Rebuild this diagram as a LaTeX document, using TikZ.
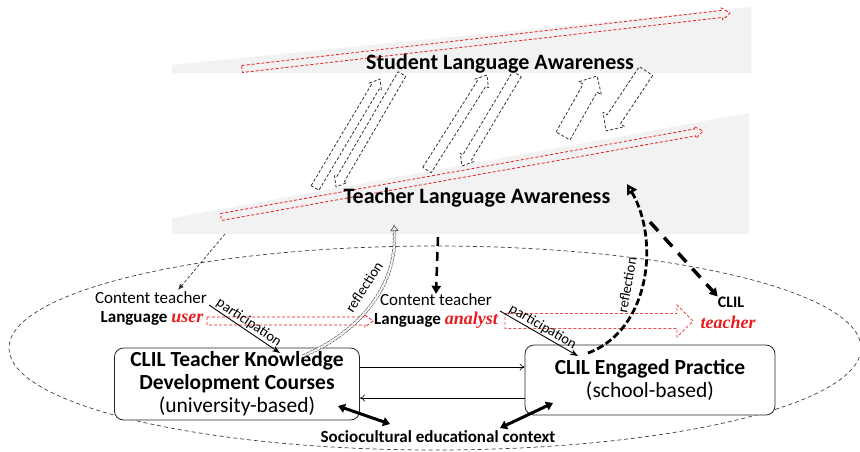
\documentclass[tikz,border=0pt]{standalone}
\usepackage{fontspec}
\setmainfont{Carlito}
\newfontfamily\serifit{Liberation Serif}
\usetikzlibrary{arrows.meta,calc}

\definecolor{bandgray}{RGB}{242,242,242}
\definecolor{lred}{RGB}{232,28,28}

% hollow block arrow: style, from, to, shaft half width, head half width, head length
\newcommand{\hollowarrow}[6]{%
  \coordinate (ha-s) at #2;
  \coordinate (ha-e) at #3;
  \coordinate (ha-n) at ($(ha-e)!#6!(ha-s)$);
  \draw[#1] ($(ha-s)!#4!90:(ha-e)$) -- ($(ha-n)!#4!90:(ha-e)$) -- ($(ha-n)!#5!90:(ha-e)$)
    -- (ha-e) -- ($(ha-n)!#5!-90:(ha-e)$) -- ($(ha-n)!#4!-90:(ha-e)$) -- ($(ha-s)!#4!-90:(ha-e)$) -- cycle;
}
\newcommand{\redword}[1]{{\serifit\fontsize{18}{20}\selectfont\bfseries\itshape\color{lred}#1}}

\tikzset{
  band/.style={fill=bandgray},
  redline/.style={draw=lred, line width=0.8pt, dash pattern=on 3pt off 2pt},
  blockline/.style={draw=black!80, line width=0.8pt, dash pattern=on 3pt off 2pt, line join=round},
  awtitle/.style={font=\fontsize{22}{24}\selectfont\bfseries, inner sep=0pt},
  plain/.style={font=\fontsize{17}{20}\selectfont, inner sep=0pt},
  slanted/.style={font=\fontsize{14.5}{16}\selectfont, inner sep=1pt},
  box/.style={draw=black!85, line width=0.8pt, rounded corners=9pt, align=center,
    fill=white, font=\fontsize{21.5}{23}\selectfont, inner sep=0pt},
  linkarrow/.style={line width=0.6pt, -{To[length=5pt,width=7pt]}},
  fat/.style={line width=3pt, {Triangle[length=7pt,width=9pt]}-{Triangle[length=7pt,width=9pt]}},
}

\begin{document}
\begin{tikzpicture}[x=1pt,y=-1pt]
  \useasboundingbox (0,0) rectangle (860,451);

  % the two awareness bands
  \fill[band] (172,65) -- (751,7) -- (751,73) -- (172,73) -- cycle;
  \fill[band] (172,218) -- (749,113) -- (749,234) -- (172,234) -- cycle;

  % outer context
  \draw[black!75, line width=0.7pt, dash pattern=on 4pt off 3pt] (435,348) ellipse [x radius=426pt, y radius=102pt];

  % growth along the bands
  \hollowarrow{redline}{(242,69)}{(730,13)}{3.5pt}{6pt}{8pt}
  \hollowarrow{redline}{(221,217)}{(703,131)}{3.5pt}{6pt}{8pt}

  % exchange between the bands
  \hollowarrow{blockline}{(315,188)}{(380,79)}{4.5pt}{7pt}{9pt}
  \hollowarrow{blockline}{(402,74)}{(336,187)}{4.5pt}{7pt}{9pt}
  \hollowarrow{blockline}{(427,170)}{(487,75)}{5pt}{8pt}{10pt}
  \hollowarrow{blockline}{(517,74)}{(462,166)}{5pt}{8pt}{10pt}
  \hollowarrow{blockline}{(563,136)}{(597,76)}{8pt}{13pt}{14pt}
  \hollowarrow{blockline}{(646,71)}{(606,131)}{8pt}{13pt}{14pt}

  \node[awtitle] (slaw) at (500,64) {Student Language Awareness};
  \node[awtitle] (tlaw) at (477,198) {Teacher Language Awareness};

  % roles
  \node[plain] (ct1) at (151,298) {Content teacher};
  \node[plain] (lu) at (152,318) {\textbf{Language} \redword{user}};
  \node[plain] (ct2) at (436,300) {Content teacher};
  \node[plain] (la) at (436,320) {\textbf{Language} \redword{analyst}};
  \node[plain,font=\fontsize{16}{18}\selectfont\bfseries] (clil) at (731,302) {CLIL};
  \node[plain] (tch) at (728,322) {\redword{teacher}};

  \hollowarrow{redline}{(207,321)}{(373,321)}{4pt}{6pt}{8pt}
  \hollowarrow{redline,draw=lred!80}{(505,321)}{(693,321)}{7.5pt}{16pt}{16pt}

  % settings
  \node[box, minimum width=245pt, minimum height=72pt] (lbox) at (237,384)
    {\textbf{CLIL Teacher Knowledge}\\\textbf{Development Courses}\\(university-based)};
  \node[box, minimum width=250pt, minimum height=70pt] (rbox) at (650,380)
    {\textbf{CLIL Engaged Practice}\\(school-based)};
  \node[font=\fontsize{17}{19}\selectfont\bfseries, inner sep=0pt] (ctx) at (438,437)
    {Sociocultural educational context};

  \coordinate (l-top) at ([yshift=17pt]lbox.east);
  \coordinate (l-bot) at ([yshift=-14pt]lbox.east);
  \draw[linkarrow] (l-top) -- (l-top -| rbox.west);
  \draw[linkarrow] (l-bot -| rbox.west) -- (l-bot);

  \coordinate (ctx-l) at (390,424);
  \coordinate (ctx-r) at (500,428);
  \coordinate (lbox-in) at (338,406);
  \coordinate (rbox-in) at (553,403);
  \draw[fat] (lbox-in) -- (ctx-l);
  \draw[fat] (ctx-r) -- (rbox-in);

  % links from teacher awareness
  \coordinate (tl-a) at (225,234);
  \coordinate (tl-b) at (438,237);
  \coordinate (tl-c) at (650,222);
  \coordinate (ct1-in) at (178,290);
  \draw[black!80, line width=0.7pt, dash pattern=on 3pt off 2pt, -{Latex[length=6pt,width=5pt]}] (tl-a) -- (ct1-in);
  \draw[line width=2.5pt, dash pattern=on 9pt off 6pt, -{Triangle[length=8pt,width=9pt]}] (tl-b) -- (ct2.north);
  \draw[line width=3.5pt, dash pattern=on 12pt off 9pt, -{Triangle[length=8pt,width=9pt]}] (tl-c) -- (clil.north west);

  % participation
  \coordinate (p1-a) at (209,305);
  \coordinate (p1-b) at (280,353);
  \coordinate (p2-a) at (500,311);
  \coordinate (p2-b) at (578,356);
  \draw[line width=0.9pt, -{Stealth[length=8pt,width=6pt]}] (p1-a) -- node[slanted, sloped, above] {participation} (p1-b);
  \draw[line width=0.9pt, -{Stealth[length=8pt,width=6pt]}] (p2-a) -- node[slanted, sloped, above] {participation} (p2-b);

  % reflection
  \coordinate (r1-a) at (303,356);
  \coordinate (r1-b) at (394,225);
  \coordinate (r2-a) at (588,353);
  \coordinate (r2-b) at (627,184);
  \draw[draw=black!70, double=white, double distance=2pt, line width=0.6pt, dash pattern=on 3pt off 1pt,
    -{Triangle[open,length=6pt,width=8pt]}] (r1-a) .. controls (360,332) and (398,285) .. (r1-b);
  \node[slanted, rotate=57] (rf1) at (364,287) {reflection};
  \draw[line width=2.8pt, dash pattern=on 7pt off 3pt, -{Triangle[open,length=10pt,width=11pt]}]
    (r2-a) .. controls (650,330) and (660,240) .. (r2-b);
  \node[slanted, rotate=80] (rf2) at (627,285) {reflection};
\end{tikzpicture}
\end{document}
